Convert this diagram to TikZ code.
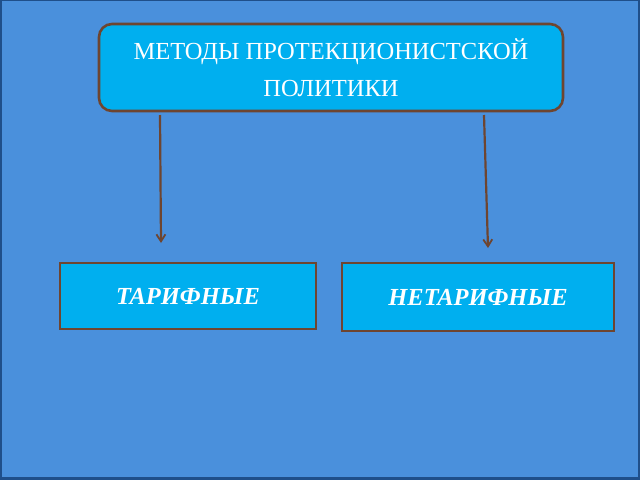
\documentclass[tikz,border=0pt]{standalone}
\usepackage{fontspec}
\setmainfont{Liberation Serif}
\usetikzlibrary{arrows.meta}
\definecolor{bgblue}{HTML}{4A90DC}
\definecolor{edgeblue}{HTML}{1F4F8A}
\definecolor{boxcyan}{HTML}{00AFEF}
\definecolor{brownline}{HTML}{6E4530}
\tikzset{
  topbox/.style={draw=brownline, line width=2.6pt, fill=boxcyan, rounded corners=13pt,
    minimum width=464pt, minimum height=87pt, inner sep=0pt, text=white, align=center,
    font=\fontsize{24.5}{37}\selectfont},
  subbox/.style={draw=brownline, line width=2.6pt, fill=boxcyan, inner sep=0pt,
    text=white, font=\fontsize{24.5}{26}\selectfont\bfseries\itshape},
  conn/.style={draw=brownline, line width=2.2pt, -{Straight Barb[length=7pt, width=9pt, line width=1.8pt]}}
}
\begin{document}
\begin{tikzpicture}[x=1pt, y=-1pt]
  \fill[edgeblue] (0,0) rectangle (640,480);
  \fill[bgblue] (2,1) rectangle (638,477);
  \useasboundingbox (0,0) rectangle (640,480);
  \node[topbox] (top) at (331,67.5) {МЕТОДЫ ПРОТЕКЦИОНИСТСКОЙ\\ПОЛИТИКИ};
  \node[subbox, minimum width=256pt, minimum height=66pt] (tar) at (188,296) {\raisebox{-2pt}{ТАРИФНЫЕ}};
  \node[subbox, minimum width=272pt, minimum height=68pt] (netar) at (478,297) {\raisebox{-3pt}{НЕТАРИФНЫЕ}};
  \coordinate (s1) at (160,115);
  \coordinate (e1) at (161,243);
  \coordinate (s2) at (484,115);
  \coordinate (e2) at (488,248);
  \draw[conn] (s1) -- (e1);
  \draw[conn] (s2) -- (e2);
\end{tikzpicture}
\end{document}
